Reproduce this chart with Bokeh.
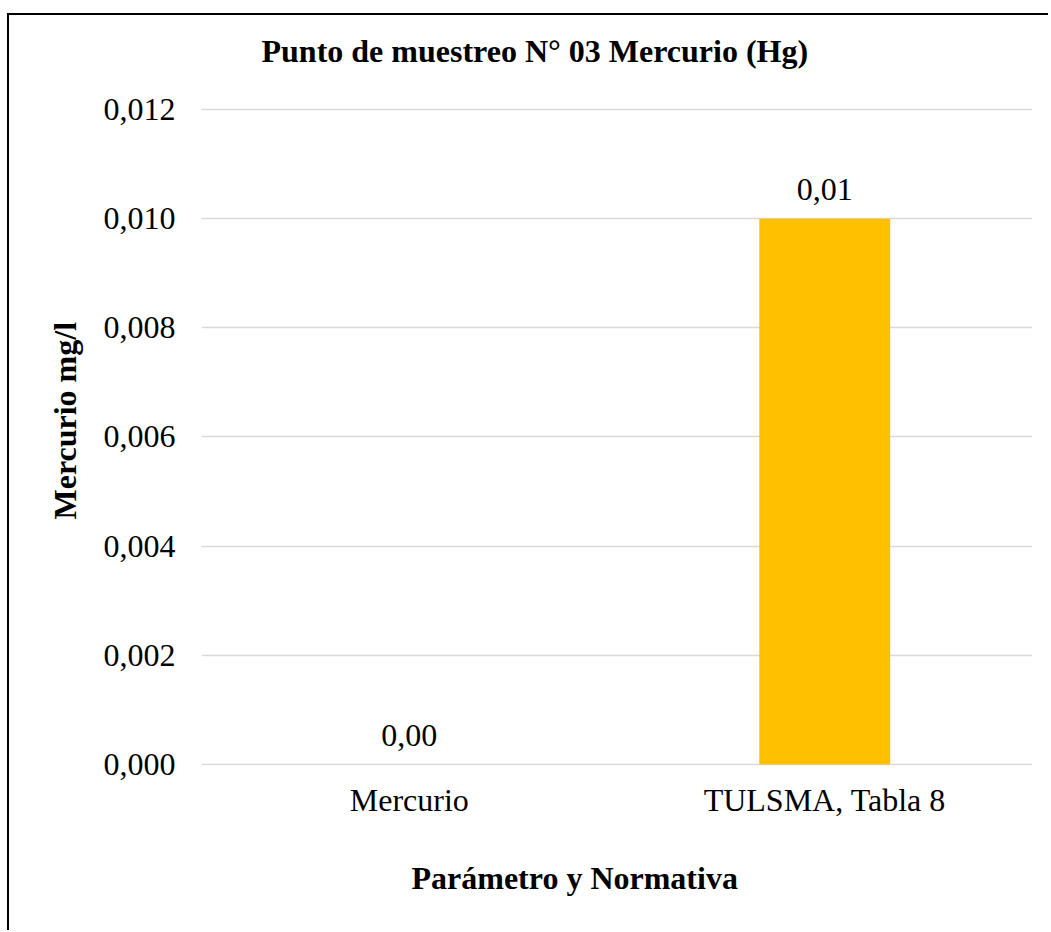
from bokeh.plotting import figure
from bokeh.models import ColumnDataSource, CustomJSTickFormatter, FixedTicker, Title, Range1d, Label
from bokeh.core.properties import value
from bokeh.embed import file_html
from bokeh.resources import INLINE

# ---- data ----
categories = ["Mercurio", "TULSMA, Tabla 8"]
values = [0.0, 0.01]
bar_colors = ["#FFC000", "#FFC000"]
y_ticks = [0.0, 0.002, 0.004, 0.006, 0.008, 0.010, 0.012]

chart_title = "Punto de muestreo N° 03 Mercurio (Hg)"
x_title = "Parámetro y Normativa"
y_title = "Mercurio mg/l"

FONT = "Liberation Serif"
FS = "32px"

labels = [f"{v:.2f}".replace(".", ",") for v in values]
src = ColumnDataSource(dict(cat=categories, val=values, color=bar_colors, lab=labels))

# the frame reaches the top of the canvas so that the title label (drawn inside it) is not clipped;
# gridlines/ticks stop at 0.012 through the fixed ticker
p = figure(
    x_range=categories,
    y_range=Range1d(-0.00002, 0.013722),
    width=1041, height=917,
    min_border_left=192, min_border_right=18,
    min_border_top=0, min_border_bottom=166,
    output_backend="svg", toolbar_location=None,
    title_location=None,
    styles={"border-left": "2px solid black", "border-top": "2px solid black",
            "margin-top": "13px", "margin-left": "7px"},
)
p.x_range.range_padding = 0

p.vbar(x="cat", top="val", width=0.315, color="color", source=src, line_color=None)

p.text(x="cat", y="val", text="lab", source=src,
       text_align="center", text_baseline="alphabetic", y_offset=-29,
       text_font=value(FONT), text_font_size=FS, text_color="#000000")

# axes
p.yaxis.ticker = FixedTicker(ticks=y_ticks)
p.yaxis.formatter = CustomJSTickFormatter(code="return tick.toFixed(3).replace('.', ',');")
for ax in (p.xaxis, p.yaxis):
    ax.axis_line_color = None
    ax.major_tick_line_color = None
    ax.minor_tick_line_color = None
    ax.major_tick_out = 0
    ax.major_tick_in = 0
    ax.major_label_text_font = FONT
    ax.major_label_text_font_size = FS
    ax.major_label_text_color = "#000000"
p.yaxis.major_label_standoff = 26
p.xaxis.major_label_standoff = 16

p.xgrid.grid_line_color = None
p.ygrid.grid_line_color = "#D9D9D9"
p.ygrid.grid_line_width = 1.3
p.ygrid.ticker = FixedTicker(ticks=y_ticks)

p.outline_line_color = None
p.background_fill_color = "white"
p.border_fill_color = "white"

# chart title (screen units, relative to the plot frame)
p.add_layout(Label(x=60, y=715, x_units="screen", y_units="screen", text=chart_title,
                   text_align="left", text_baseline="alphabetic",
                   text_font=FONT, text_font_size=FS, text_font_style="bold",
                   text_color="#000000"))

# axis titles
p.add_layout(Title(text=x_title, align="left", offset=210, standoff=74,
                   text_font=FONT, text_font_size=FS, text_font_style="bold",
                   text_color="#000000"), "below")
p.add_layout(Title(text=y_title, align="left", offset=246, standoff=35,
                   text_font=FONT, text_font_size=FS, text_font_style="bold",
                   text_color="#000000"), "left")

open("out.html", "w").write(file_html(p, INLINE))
